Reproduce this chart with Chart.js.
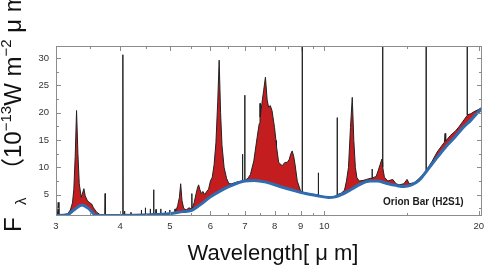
<!DOCTYPE html>
<html>
<head>
<meta charset="utf-8">
<script src="https://cdn.jsdelivr.net/npm/chart.js@4.4.0/dist/chart.umd.min.js"></script>
<style>
  body { margin: 0; background: #fff; }
</style>
</head>
<body>
<canvas id="SpectrumChart" width="489" height="268"></canvas>
<script>
var wavelength = [
  3.00, 3.02, 3.03, 3.04, 3.08, 3.12, 3.16, 3.20, 3.23, 3.25, 3.27, 3.29, 3.31, 3.33, 3.36,
  3.40, 3.42, 3.45, 3.48, 3.52, 3.55, 3.60, 3.65, 3.70, 3.735, 3.74, 3.745, 3.80, 3.90, 4.00,
  4.045, 4.05, 4.055, 4.075, 4.08, 4.085, 4.15, 4.195, 4.20, 4.205, 4.30, 4.395, 4.40, 4.405,
  4.475, 4.48, 4.485, 4.575, 4.58, 4.585, 4.645, 4.65, 4.655, 4.695, 4.70, 4.705, 4.795, 4.80,
  4.805, 4.895, 4.90, 4.905, 4.995, 5.00, 5.005, 5.08, 5.115, 5.12, 5.125,
  5.18, 5.22, 5.25, 5.28, 5.32, 5.38, 5.45, 5.515, 5.52, 5.525, 5.58, 5.62, 5.66, 5.69, 5.72,
  5.76, 5.80, 5.85, 5.90, 5.95, 6.00, 6.05, 6.10, 6.15, 6.20, 6.24, 6.28, 6.32, 6.38, 6.45,
  6.52, 6.60, 6.70, 6.80, 6.925, 6.93, 6.935, 6.995, 7.00, 7.005, 7.10, 7.18, 7.29, 7.40, 7.47,
  7.495, 7.50, 7.505, 7.56, 7.62, 7.68, 7.74, 7.79, 7.85, 7.91, 8.00, 8.065, 8.07, 8.075, 8.15,
  8.22, 8.28, 8.38, 8.47, 8.55, 8.60, 8.66, 8.72, 8.77, 8.86, 8.99, 9.055, 9.06, 9.065, 9.30,
  9.60, 9.735, 9.74, 9.745, 10.0, 10.3, 10.5, 10.595, 10.60, 10.605, 10.8, 10.95, 11.05, 11.15,
  11.25, 11.34, 11.42, 11.50, 11.58, 11.70, 11.90, 12.10, 12.30, 12.395, 12.40, 12.405, 12.50,
  12.62, 12.75, 12.85, 12.95, 12.995, 13.00, 13.005, 13.10, 13.30, 13.60, 13.80, 14.00, 14.30,
  14.50, 14.65, 15.00, 15.40, 15.70, 15.795, 15.80, 15.805, 16.20, 16.60, 16.90, 17.15, 17.20,
  17.25, 17.60, 18.00, 18.30, 18.60, 18.995, 19.00, 19.005, 19.30, 19.60, 20.00, 20.30
];
var flux = [
  1.3, 1.4, 3.6, 1.4, 1.2, 1.4, 1.5, 2.2, 3.5, 6.0, 12.0, 20.4, 12.5, 7.0, 4.5,
  6.1, 4.8, 4.0, 3.6, 3.3, 2.6, 1.8, 1.4, 1.3, 1.3, 5.2, 1.3, 1.2, 1.3, 1.3,
  1.4, 30.6, 1.5, 1.4, 2.0, 1.4, 1.4, 1.4, 1.8, 1.4, 1.4, 1.4, 2.2, 1.4,
  1.4, 2.6, 1.4, 1.4, 2.4, 1.4, 1.5, 5.9, 1.5, 1.5, 2.3, 1.5, 1.5, 2.4,
  1.5, 1.5, 2.0, 1.5, 1.6, 2.2, 1.6, 1.7, 1.7, 2.4, 1.7,
  3.0, 4.5, 7.0, 4.0, 2.5, 2.2, 2.6, 2.4, 5.2, 2.4, 3.6, 5.0, 6.2, 6.8, 6.0,
  5.2, 5.6, 5.0, 5.6, 6.0, 7.5, 8.2, 10.5, 14.5, 22.0, 29.6, 20.0, 14.0, 10.0, 8.0,
  7.0, 7.0, 7.2, 7.4, 7.5, 12.4, 7.6, 7.6, 23.2, 7.6, 8.0, 8.7, 11.2, 15.5, 18.0,
  19.0, 21.7, 19.2, 21.7, 24.1, 26.5, 22.3, 21.0, 21.3, 20.4, 17.3, 14.3, 14.9, 13.8, 10.9,
  10.6, 10.3, 10.9, 10.9, 11.5, 12.4, 13.0, 12.0, 10.6, 7.5, 5.7, 5.5, 40, 5.5, 5.2,
  5.0, 5.0, 9.0, 4.9, 4.6, 4.5, 4.7, 5.0, 19.1, 5.0, 5.3, 5.8, 7.5, 10.0,
  17.3, 22.8, 14.9, 10.0, 8.1, 7.5, 7.6, 7.8, 8.0, 8.0, 9.7, 8.0, 8.2,
  8.3, 9.5, 10.5, 11.5, 11.0, 40, 10.0, 8.2, 7.5, 7.8, 7.0, 6.8, 7.0,
  7.8, 7.0, 7.2, 8.2, 9.0, 9.2, 40, 9.4, 11.0, 12.8, 13.8, 14.6, 16.2,
  14.8, 15.8, 16.6, 17.4, 18.3, 19.5, 40, 19.6, 19.8, 20.2, 20.6, 21.0
];

// fitted continuum (blue)
var contWavelength = [
  3.00, 3.15, 3.25, 3.37, 3.47, 3.58, 3.70, 4.00, 4.50, 5.00, 5.30, 5.50, 5.70, 6.00, 6.30,
  6.60, 7.00, 7.30, 7.70, 8.20, 8.70, 9.20, 9.70, 10.2, 10.5, 10.8, 11.3, 11.8, 12.3, 12.7,
  13.2, 13.8, 14.3, 14.8, 15.3, 15.8, 16.5, 17.2, 18.0, 18.7, 19.3, 20.0, 20.3
];
var contFlux = [
  1.2, 1.3, 2.2, 3.1, 2.5, 1.3, 1.2, 1.2, 1.3, 1.5, 1.9, 2.1, 3.0, 4.6, 5.8,
  6.7, 7.5, 7.6, 7.3, 6.5, 5.8, 5.2, 4.8, 4.5, 4.6, 5.0, 6.0, 7.0, 7.5, 7.5,
  7.1, 6.7, 6.5, 6.8, 7.6, 9.2, 11.5, 13.6, 15.6, 17.4, 18.6, 20.2, 20.7
];

var xTicks = [3, 4, 5, 6, 7, 8, 9, 10, 20];
var xMinorTicks = [3.5, 4.5, 5.5, 6.5, 7.5, 8.5, 9.5, 14.5];
var yTicks = [5, 10, 15, 20, 25, 30];
var yMinorTicks = [2.5, 7.5, 12.5, 17.5, 22.5, 27.5];

var spectrum = wavelength.map(function (w, i) { return { x: w, y: flux[i] }; });
var continuum = contWavelength.map(function (w, i) { return { x: w, y: contFlux[i] }; });

var tickFont = { family: '"Liberation Sans", Arial, sans-serif', size: 9.5 };

// box, inward ticks on four sides, axis titles and the source label
var framePlugin = {
  id: 'frame',
  afterDraw: function (chart) {
    var c = chart.ctx, a = chart.chartArea;
    var xs = chart.scales.x, ys = chart.scales.y;
    c.save();
    c.strokeStyle = '#8c8c8c';
    c.lineWidth = 1;
    c.strokeRect(a.left + 0.5, a.top + 0.5, a.right - a.left - 1, a.bottom - a.top - 1);

    function xTick(v, len) {
      var px = Math.round(xs.getPixelForValue(v)) + 0.5;
      c.beginPath();
      c.moveTo(px, a.bottom); c.lineTo(px, a.bottom - len);
      c.moveTo(px, a.top); c.lineTo(px, a.top + len);
      c.stroke();
    }
    function yTick(v, len) {
      var py = Math.round(ys.getPixelForValue(v)) + 0.5;
      c.beginPath();
      c.moveTo(a.left, py); c.lineTo(a.left + len, py);
      c.moveTo(a.right, py); c.lineTo(a.right - len, py);
      c.stroke();
    }
    xTicks.forEach(function (v) { xTick(v, 5); });
    xMinorTicks.forEach(function (v) { xTick(v, 3); });
    yTicks.forEach(function (v) { yTick(v, 5); });
    yMinorTicks.forEach(function (v) { yTick(v, 3); });

    c.fillStyle = '#1a1a1a';
    c.font = 'bold 10px "Liberation Sans", Arial, sans-serif';
    c.textAlign = 'left';
    c.textBaseline = 'alphabetic';
    c.fillText('Orion Bar (H2S1)', 383, 205);

    // x title
    c.fillStyle = '#111';
    c.font = '22px "Liberation Sans", "Noto Sans CJK JP", sans-serif';
    c.textAlign = 'center';
    c.fillText('Wavelength[ μ m]', 273, 260);

    // y title, rotated, with sub/superscripts (some pieces placed at fixed offsets)
    var big = '24px "Liberation Sans", "Noto Sans CJK JP", sans-serif';
    var small = '15px "Liberation Sans", "Noto Sans CJK JP", sans-serif';
    var parts = [
      ['F', big, 0, 0], ['λ', small, 5, 27], ['（', big, 0, 50], ['10', big, 0, 74],
      ['−13', small, -10], ['W m', big, 0], ['−2', small, -10], [' μ m', big, 0],
      ['−1', small, -10], ['）', big, 0]
    ];
    c.translate(21, 232);
    c.rotate(-Math.PI / 2);
    c.textAlign = 'left';
    var u = 0;
    parts.forEach(function (p) {
      c.font = p[1];
      if (p[3] !== undefined) u = p[3];
      c.fillText(p[0], u, p[2]);
      u += c.measureText(p[0]).width;
    });
    c.restore();
  }
};

var chart = new Chart(document.getElementById('SpectrumChart').getContext('2d'), {
  type: 'line',
  data: {
    datasets: [{
      label: 'spectrum',
      data: spectrum,
      borderColor: '#222',
      borderWidth: 1,
      pointRadius: 0,
      tension: 0,
      order: 1,
      fill: { target: 1, above: '#c41d20', below: 'rgba(0,0,0,0)' }
    }, {
      label: 'continuum',
      data: continuum,
      borderColor: '#2f6cb0',
      borderWidth: 3,
      pointRadius: 0,
      cubicInterpolationMode: 'monotone',
      order: 0,
      fill: false
    }]
  },
  options: {
    responsive: false,
    animation: false,
    devicePixelRatio: 1,
    layout: { padding: { left: 0, top: 46, right: 7, bottom: 0 } },
    plugins: { legend: { display: false }, tooltip: { enabled: false } },
    scales: {
      x: {
        type: 'logarithmic',
        min: 3,
        max: 20.3,
        grid: { display: false, drawTicks: false },
        border: { display: false },
        afterBuildTicks: function (s) { s.ticks = xTicks.map(function (v) { return { value: v }; }); },
        afterFit: function (s) { s.height = 52; },
        ticks: {
          autoSkip: false, maxRotation: 0, padding: 5, color: '#333', font: tickFont,
          callback: function (v) { return String(v); }
        }
      },
      y: {
        type: 'linear',
        min: 1.1,
        max: 32.2,
        grid: { display: false, drawTicks: false },
        border: { display: false },
        afterBuildTicks: function (s) { s.ticks = yTicks.map(function (v) { return { value: v }; }); },
        afterFit: function (s) { s.width = 56; },
        ticks: { padding: 7, color: '#333', font: tickFont }
      }
    }
  },
  plugins: [framePlugin]
});
</script>
</body>
</html>
